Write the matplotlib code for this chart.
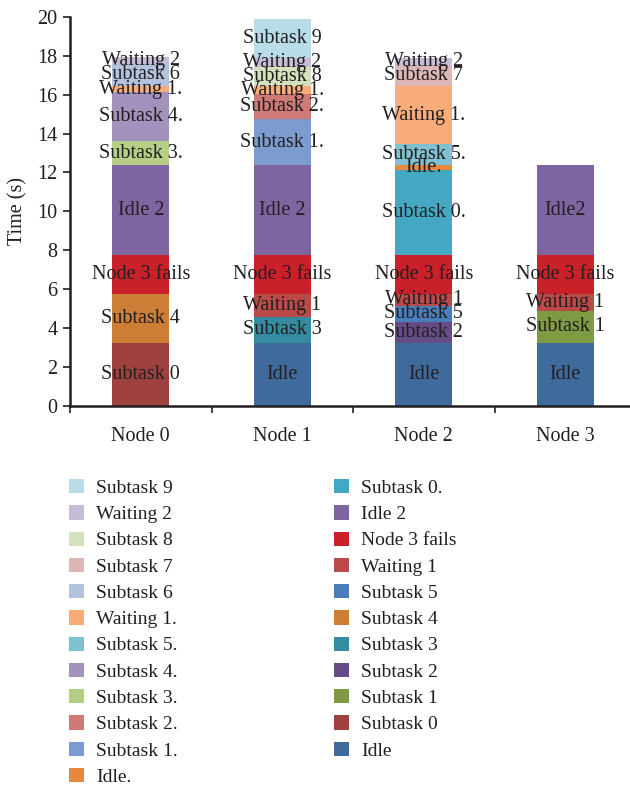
import matplotlib
matplotlib.use("Agg")
import matplotlib.pyplot as plt
from matplotlib.patches import Patch
import numpy as np

plt.rcParams['font.family'] = ['Liberation Serif', 'DejaVu Serif']

nodes = ["Node 0", "Node 1", "Node 2", "Node 3"]

# stacked segments, bottom to top, one value per node (seconds)
idle         = [0, 3.25, 3.25, 3.25]
subtask_0    = [3.25, 0, 0, 0]
subtask_1    = [0, 0, 0, 1.63]
subtask_2    = [0, 0, 1.04, 0]
subtask_3    = [0, 1.32, 0, 0]
subtask_4    = [2.5, 0, 0, 0]
subtask_5    = [0, 0, 0.86, 0]
waiting_1    = [0, 1.18, 0.6, 0.87]
node3_fails  = [2, 2, 2, 2]
idle_2       = [4.62, 4.62, 0, 4.62]
subtask_0b   = [0, 0, 4.4, 0]
idle_b       = [0, 0, 0.22, 0]
subtask_1b   = [0, 2.36, 0, 0]
subtask_2b   = [0, 1.3, 0, 0]
subtask_3b   = [1.23, 0, 0, 0]
subtask_4b   = [2.53, 0, 0, 0]
subtask_5b   = [0, 0, 1.08, 0]
waiting_1b   = [0.31, 0.41, 2.99, 0]
subtask_6    = [1.16, 0, 0, 0]
subtask_7    = [0, 0, 1.06, 0]
subtask_8    = [0, 0.97, 0, 0]
waiting_2    = [0.33, 0.46, 0.37, 0]
subtask_9    = [0, 2.01, 0, 0]

series_names = ["Idle", "Subtask 0", "Subtask 1", "Subtask 2", "Subtask 3",
                "Subtask 4", "Subtask 5", "Waiting 1", "Node 3 fails", "Idle 2",
                "Subtask 0.", "Idle.", "Subtask 1.", "Subtask 2.", "Subtask 3.",
                "Subtask 4.", "Subtask 5.", "Waiting 1.", "Subtask 6", "Subtask 7",
                "Subtask 8", "Waiting 2", "Subtask 9"]
series_values = [idle, subtask_0, subtask_1, subtask_2, subtask_3, subtask_4,
                 subtask_5, waiting_1, node3_fails, idle_2, subtask_0b, idle_b,
                 subtask_1b, subtask_2b, subtask_3b, subtask_4b, subtask_5b,
                 waiting_1b, subtask_6, subtask_7, subtask_8, waiting_2, subtask_9]
series_colors = ["#3F6A9C", "#9E413E", "#7E9A43", "#654C86", "#358B9F",
                 "#CC7D36", "#4A7EBB", "#B94A48", "#C9202A", "#7E64A0",
                 "#44A8C2", "#E8883A", "#7C9CCF", "#D07A78", "#B5CF87",
                 "#A391BE", "#7FC0D3", "#F9AC78", "#B3C3DE", "#DDB7B6",
                 "#D3E2BD", "#C5BCD5", "#B8DCE8"]
# segment labels that differ from the series name
label_overrides = {"Idle 2": ["Idle 2", "Idle 2", "Idle 2", "Idle2"]}

text_color = "#231F20"
fs = 14.5

fig = plt.figure(figsize=(6.3, 7.89), dpi=100)
ax = fig.add_axes([70 / 630, 1 - 405.7 / 789, 566 / 630, (405.7 - 17) / 789])

x = np.arange(len(nodes))
bottom = np.zeros(len(nodes))
for name, vals, col in zip(series_names, series_values, series_colors):
    vals = np.array(vals, dtype=float)
    bars = ax.bar(x, vals, width=0.4, bottom=bottom, color=col, label=name,
                  edgecolor="none")
    texts = label_overrides.get(name, [name] * len(nodes))
    labels = [t if v > 0 else "" for t, v in zip(texts, vals)]
    ax.bar_label(bars, labels=labels, label_type="center", fontsize=fs,
                 color=text_color)
    bottom += vals

ax.set_xlim(-0.5, 3.5)
ax.set_ylim(0, 20)
ax.set_yticks(np.arange(0, 21, 2))
ax.set_xticks(x)
ax.set_xticklabels(nodes)
ax.set_xticks(np.arange(-0.5, 3.0, 1.0), minor=True)
ax.tick_params(axis="x", which="major", length=0, pad=15, labelsize=fs,
               labelcolor=text_color)
ax.tick_params(axis="x", which="minor", length=5, width=1.2, direction="out",
               color=text_color)
ax.tick_params(axis="y", length=5, width=1.2, direction="out", pad=4,
               labelsize=fs, labelcolor=text_color, color=text_color)
ax.set_ylabel("Time (s)", fontsize=fs, color=text_color, labelpad=7)

for s in ["top", "right"]:
    ax.spines[s].set_visible(False)
for s in ["left", "bottom"]:
    ax.spines[s].set_linewidth(1.8)
    ax.spines[s].set_color(text_color)

# legend: reversed stacking order, split into two columns
handles = [Patch(facecolor=c, edgecolor="none", label=n)
           for n, c in zip(series_names, series_colors)][::-1]
col1 = handles[:12]
col2 = handles[12:]
common = dict(frameon=False, fontsize=14, handlelength=0.75, handleheight=0.75,
              handletextpad=0.65, labelspacing=0.43, borderpad=0,
              borderaxespad=0, labelcolor=text_color)
fig.legend(handles=col1, loc="upper left",
           bbox_to_anchor=(69 / 630, 1 - 479 / 789), **common)
fig.legend(handles=col2, loc="upper left",
           bbox_to_anchor=(334 / 630, 1 - 479 / 789), **common)

fig.savefig("out.png", dpi=100)
